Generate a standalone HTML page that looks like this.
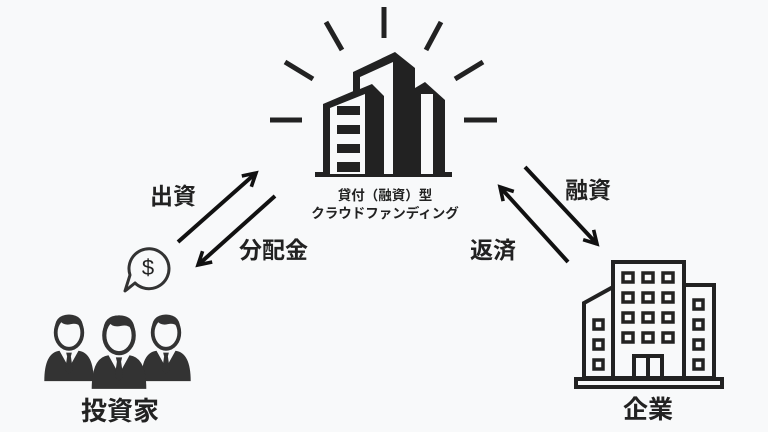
<!DOCTYPE html>
<html><head><meta charset="utf-8"><style>
html,body{margin:0;padding:0;background:#f8f9fa;}
svg{display:block}
text{font-family:"Liberation Sans","Noto Sans CJK JP",sans-serif;font-weight:bold;fill:#222}
</style></head><body>
<svg width="768" height="432" viewBox="0 0 768 432" xmlns="http://www.w3.org/2000/svg">
<rect width="768" height="432" fill="#f8f9fa"/>
<defs>
<marker id="ah" viewBox="0 0 10 10" refX="8" refY="5" markerWidth="4.5" markerHeight="4.5" orient="auto" markerUnits="strokeWidth">
<path d="M1,1 L8,5 L1,9" fill="none" stroke="#111" stroke-width="2"/>
</marker>
<g id="person">
<path d="M-26,38 Q-26,8 -10,6 L0,24 L10,6 Q26,8 26,38 Z" fill="#333"/>
<path d="M-3,8 L3,8 L2,12 L4,26 L0,31 L-4,26 L-2,12 Z" fill="#333"/>
<ellipse cx="0" cy="-13" rx="14" ry="17" fill="#f8f9fa" stroke="#333" stroke-width="4"/>
<path d="M-15,-14 Q-16,-32 0,-32 Q16,-32 15,-14 Q12,-24 2,-22 Q-6,-20 -10,-26 Q-13,-20 -15,-14 Z" fill="#333"/>
</g>
</defs>
<g stroke="#222" stroke-width="5">
<line x1="384" y1="7" x2="384" y2="38"/>
<line x1="270" y1="120" x2="302" y2="120"/>
<line x1="464" y1="120" x2="497" y2="120"/>
<line x1="326" y1="22" x2="342" y2="50"/>
<line x1="441" y1="22" x2="426" y2="50"/>
<line x1="285" y1="62" x2="313" y2="79"/>
<line x1="483" y1="62" x2="455" y2="79"/>
</g>
<g fill="#222">
<rect x="315" y="172" width="137" height="5"/>
<polygon points="353,72 395,52 415,68 415,174 353,174"/>
<polygon points="323,104 370,84 380,96 380,174 323,174"/>
<polygon points="415,88 425,82 445,100 445,174 415,174"/>
</g>
<g fill="#f8f9fa">
<polygon points="360,77 393,62 393,174 384,174 384,96 372,84 360,89"/>
<polygon points="330,108 365,94 365,174 330,174"/>
<rect x="421" y="94" width="12" height="80"/>
</g>
<g fill="#222">
<rect x="337" y="106" width="23" height="9"/><rect x="337" y="125" width="23" height="9"/>
<rect x="337" y="144" width="23" height="9"/><rect x="337" y="162" width="23" height="10"/>
</g>
<text x="385" y="200" font-size="13.5" text-anchor="middle">貸付（融資）型</text>
<text x="385" y="218" font-size="13.5" text-anchor="middle">クラウドファンディング</text>
<g stroke="#111" stroke-width="4" fill="none">
<line x1="178" y1="242" x2="256" y2="173" marker-end="url(#ah)"/>
<line x1="275" y1="196" x2="198" y2="265" marker-end="url(#ah)"/>
<line x1="525" y1="167" x2="597" y2="244" marker-end="url(#ah)"/>
<line x1="568" y1="262" x2="500" y2="187" marker-end="url(#ah)"/>
</g>
<text x="150" y="204" font-size="23">出資</text>
<text x="239" y="258" font-size="23">分配金</text>
<text x="470" y="258" font-size="23">返済</text>
<text x="565" y="198" font-size="23">融資</text>
<path d="M135,283 A20,20 0 1 0 130,275 L125,291 Z" fill="#f8f9fa" stroke="#333" stroke-width="3" stroke-linejoin="round"/>
<text x="148" y="275" font-size="22" text-anchor="middle" style="font-weight:normal">$</text>
<use href="#person" transform="translate(69,345) scale(0.95)"/>
<use href="#person" transform="translate(166,345) scale(0.95)"/>
<use href="#person" transform="translate(119,349) scale(1.05)"/>
<text x="120" y="420" font-size="26" text-anchor="middle">投資家</text>
<g fill="none" stroke="#222" stroke-width="4">
<rect x="613" y="262" width="71" height="116"/>
<path d="M613,287 L584,303 L584,378 L613,378"/>
<path d="M684,285 L714,285 L714,378 L684,378"/>
<rect x="576" y="379" width="146" height="8"/>
<path d="M634,378 L634,356 L662,356 L662,378 M648,356 L648,378"/>
</g>
<g fill="none" stroke="#222" stroke-width="3.5">
<rect x="623" y="273" width="10" height="9"/><rect x="643" y="273" width="10" height="9"/><rect x="663" y="273" width="10" height="9"/>
<rect x="623" y="293" width="10" height="9"/><rect x="643" y="293" width="10" height="9"/><rect x="663" y="293" width="10" height="9"/>
<rect x="623" y="313" width="10" height="9"/><rect x="643" y="313" width="10" height="9"/><rect x="663" y="313" width="10" height="9"/>
<rect x="623" y="333" width="10" height="9"/><rect x="643" y="333" width="10" height="9"/><rect x="663" y="333" width="10" height="9"/>
<rect x="594" y="320" width="9" height="9"/><rect x="594" y="340" width="9" height="9"/><rect x="594" y="360" width="9" height="9"/>
<rect x="694" y="300" width="9" height="9"/><rect x="694" y="320" width="9" height="9"/><rect x="694" y="340" width="9" height="9"/><rect x="694" y="360" width="9" height="9"/>
</g>
<text x="648" y="418" font-size="25" text-anchor="middle">企業</text>
</svg>
</body></html>
